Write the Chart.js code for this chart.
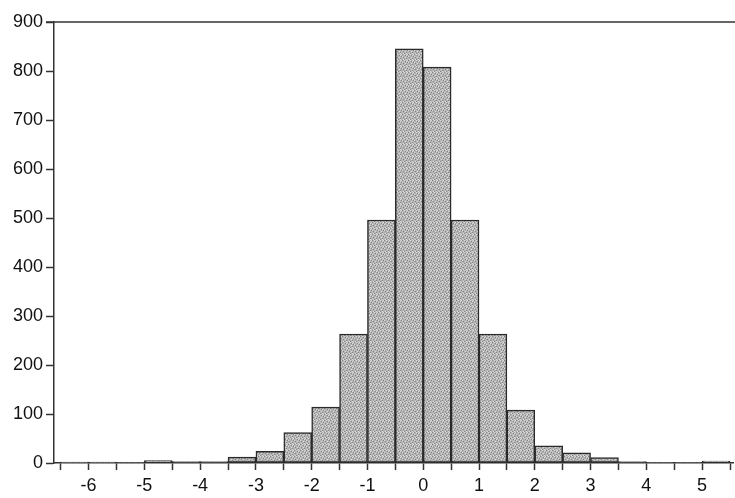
<!DOCTYPE html>
<html>
<head>
<meta charset="utf-8">
<script src="https://cdn.jsdelivr.net/npm/chart.js@4"></script>
<style>
  html, body { margin: 0; padding: 0; background: #ffffff; }
  #wrap { width: 735px; height: 498px; }
</style>
</head>
<body>
<div id="wrap"><canvas id="histChart"></canvas></div>
<script>
// bin centres (width 0.5) and counts
const binCenters = [-6.25, -5.75, -5.25, -4.75, -4.25, -3.75, -3.25, -2.75, -2.25, -1.75, -1.25, -0.75,
  -0.25, 0.25, 0.75, 1.25, 1.75, 2.25, 2.75, 3.25, 3.75, 4.25, 4.75, 5.25];
const counts = [2, 2, 1, 5, 3, 3, 12, 24, 62, 114, 263, 496,
  845, 808, 496, 263, 108, 35, 21, 11, 3, 1, 1, 4];
const yTicks = [0, 100, 200, 300, 400, 500, 600, 700, 800, 900];
const xLabels = [-6, -5, -4, -3, -2, -1, 0, 1, 2, 3, 4, 5];

// stippled grey fill for the bars
function stipple() {
  const c = document.createElement("canvas");
  c.width = 6;
  c.height = 6;
  const g = c.getContext("2d");
  g.fillStyle = "#b4b4b4";
  g.fillRect(0, 0, 6, 6);
  const dark = [[0, 0], [3, 1], [1, 3], [4, 4], [5, 2], [2, 5]];
  const light = [[2, 0], [5, 0], [0, 2], [3, 3], [1, 5], [4, 5], [4, 1]];
  g.fillStyle = "#858585";
  dark.forEach(([x, y]) => g.fillRect(x, y, 1, 1));
  g.fillStyle = "#dcdcdc";
  light.forEach(([x, y]) => g.fillRect(x, y, 1, 1));
  return g.createPattern(c, "repeat");
}

// top frame line, running a little past the y axis like the 900 tick
const topLine = {
  id: "topLine",
  afterDraw(chart) {
    const { ctx, chartArea } = chart;
    ctx.save();
    ctx.strokeStyle = "#333";
    ctx.lineWidth = 1.5;
    ctx.beginPath();
    ctx.moveTo(chartArea.left - 8, chartArea.top);
    ctx.lineTo(chart.width, chartArea.top);
    ctx.stroke();
    ctx.restore();
  },
};

const ctx = document.getElementById("histChart").getContext("2d");
const histChart = new Chart(ctx, {
  type: "bar",
  data: {
    datasets: [
      {
        data: binCenters.map((x, i) => ({ x: x, y: counts[i] })),
        backgroundColor: stipple(),
        borderColor: "#2a2a2a",
        borderWidth: 1.5,
        borderSkipped: false,
        barPercentage: 1,
        categoryPercentage: 1,
      },
    ],
  },
  plugins: [topLine],
  options: {
    responsive: true,
    maintainAspectRatio: false,
    animation: false,
    layout: { padding: { top: 22, right: 0, left: 0, bottom: 0 } },
    plugins: {
      legend: { display: false },
      tooltip: { enabled: false },
    },
    scales: {
      x: {
        type: "linear",
        offset: false,
        min: -6.62,
        max: 5.56,
        afterFit: (scale) => { scale.height = 35; },
        border: { color: "#333", width: 1.5 },
        grid: {
          offset: false,
          drawOnChartArea: false,
          drawTicks: true,
          tickLength: 7,
          tickColor: "#333",
          tickWidth: 1.5,
        },
        ticks: {
          stepSize: 0.5,
          includeBounds: false,
          autoSkip: false,
          maxRotation: 0,
          padding: 5,
          color: "#111",
          font: { family: "Liberation Sans", size: 18 },
          callback: (v) => (xLabels.includes(v) ? String(v) : ""),
        },
      },
      y: {
        min: 0,
        max: 900,
        afterFit: (scale) => { scale.width = 54; },
        afterBuildTicks: (scale) => { scale.ticks = yTicks.map((v) => ({ value: v })); },
        border: { color: "#333", width: 1.5 },
        grid: {
          drawOnChartArea: false,
          tickLength: 8,
          tickColor: "#333",
          tickWidth: 1.5,
        },
        ticks: {
          padding: 3,
          color: "#111",
          font: { family: "Liberation Sans", size: 18 },
        },
      },
    },
  },
});
</script>
</body>
</html>
